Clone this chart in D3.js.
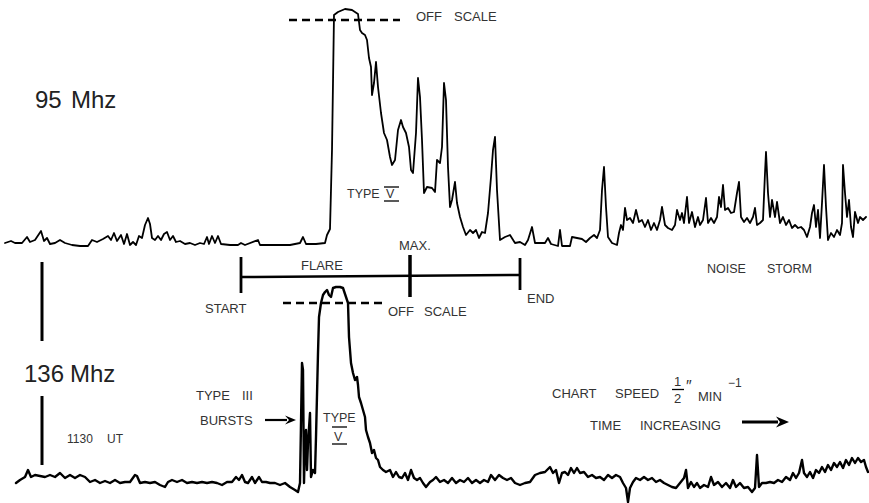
<!DOCTYPE html>
<html lang="en">
<head>
<meta charset="UTF-8">
<title>Radio record, 95 Mhz and 136 Mhz</title>
<script src="https://d3js.org/d3.v7.min.js"></script>
<style>
  body { margin: 0; background: #fff; }
  svg { display: block; }
  .trace { fill: none; stroke: #000; stroke-linejoin: round; stroke-linecap: round; }
  .note { font-family: "Liberation Sans", Arial, sans-serif; font-size: 13px; fill: #333; }
  .big { font-size: 24px; fill: #222; }
  .mark { stroke: #000; fill: none; }
</style>
</head>
<body>
<svg width="869" height="503"></svg>
<script>
  // [time, level] pairs; time runs left to right, level is pen deflection
  const trace95 = [[5,7],[11,9],[15,7],[22,7],[27,13],[30,8],[35,10],[41,19],[44,9],[47,12],[50,6],[55,7],[60,10],[65,7],[72,5],[80,4],[88,4],[92,10],[97,8],[103,11],[108,14],[111,10],[114,17],[117,9],[121,15],[124,6],[127,16],[130,5],[133,8],[136,5],[139,14],[142,12],[145,25],[148,32],[150,26],[152,12],[155,10],[158,14],[161,10],[164,16],[167,18],[170,10],[173,14],[176,8],[180,9],[185,6],[190,7],[195,5],[200,7],[204,6],[207,13],[209,6],[212,14],[215,7],[218,14],[221,6],[230,5],[238,5],[241,7],[245,5],[258,10],[260,5],[280,5],[290,5],[300,7],[303,13],[306,6],[316,6],[325,7],[327,15],[330,21],[332,100],[334,235],[338,238],[345,241],[352,240],[358,236],[360,220],[362,217],[365,215],[367,210],[369,192],[371,183],[372,155],[374,167],[376,188],[378,163],[381,137],[384,117],[387,110],[390,93],[392,85],[395,90],[398,120],[401,130],[403,123],[406,117],[409,103],[411,80],[413,77],[416,117],[418,172],[420,153],[422,110],[424,57],[427,63],[432,62],[435,58],[437,90],[440,87],[442,103],[444,167],[446,150],[448,83],[450,43],[452,50],[455,68],[457,47],[460,33],[463,23],[466,15],[470,20],[473,17],[476,20],[479,12],[482,18],[485,17],[488,37],[491,73],[493,100],[495,113],[497,60],[500,10],[505,13],[510,15],[515,7],[520,8],[525,5],[528,10],[532,23],[535,7],[545,7],[548,12],[551,6],[558,4],[560,20],[562,4],[570,4],[572,13],[577,12],[582,11],[586,8],[590,12],[594,15],[597,12],[600,20],[602,60],[604,83],[606,43],[608,13],[612,7],[617,5],[619,17],[621,25],[623,20],[625,42],[627,30],[630,32],[633,27],[636,40],[639,28],[642,30],[645,23],[648,30],[651,20],[654,27],[657,20],[660,30],[662,43],[665,25],[668,22],[672,20],[675,25],[677,40],[680,30],[682,37],[684,27],[687,53],[689,27],[692,38],[695,23],[698,33],[700,25],[703,30],[706,52],[708,27],[711,32],[714,27],[717,33],[719,53],[721,43],[723,65],[725,40],[728,42],[731,37],[734,38],[737,57],[739,68],[741,33],[744,28],[747,32],[750,27],[753,33],[755,42],[757,25],[760,27],[763,30],[765,77],[766,98],[768,57],[770,33],[772,50],[775,33],[777,48],[780,27],[783,33],[786,25],[789,30],[792,22],[795,25],[798,22],[801,23],[804,20],[807,13],[810,23],[812,37],[814,45],[816,23],[818,40],[820,12],[822,47],[824,85],[826,43],[828,10],[831,17],[834,13],[837,20],[840,15],[842,27],[843,85],[845,57],[847,33],[849,50],[851,23],[853,13],[855,38],[858,27],[860,33],[863,30],[866,33]];

  const trace136 = [[16,22],[20,25],[25,28],[28,35],[31,28],[35,30],[40,29],[45,28],[50,30],[55,28],[60,32],[65,27],[70,30],[75,27],[80,30],[85,28],[90,23],[95,25],[100,22],[105,24],[110,22],[115,25],[120,22],[125,23],[130,23],[135,30],[137,29],[140,22],[145,23],[150,22],[155,23],[160,20],[165,18],[168,23],[172,25],[177,23],[182,25],[187,22],[192,23],[197,22],[202,23],[207,22],[212,23],[217,22],[222,20],[227,23],[232,23],[236,28],[239,25],[242,30],[245,23],[248,22],[252,28],[255,22],[259,28],[262,23],[266,23],[270,22],[275,22],[280,20],[285,22],[290,18],[295,15],[298,13],[300,22],[302,142],[303,135],[304,22],[305,62],[306,75],[307,35],[308,62],[310,92],[311,28],[313,35],[315,32],[316,68],[318,152],[319,188],[321,202],[323,210],[325,213],[327,215],[329,210],[331,208],[333,217],[336,218],[340,218],[343,217],[346,208],[348,202],[349,168],[351,142],[353,132],[355,125],[357,128],[358,120],[359,108],[361,102],[363,95],[365,88],[366,75],[368,68],[370,62],[372,52],[374,55],[376,47],[378,45],[380,38],[383,35],[386,33],[390,35],[393,28],[396,33],[399,28],[402,27],[405,32],[408,25],[411,35],[414,27],[417,25],[420,27],[423,22],[426,18],[430,23],[433,25],[436,28],[440,23],[444,25],[448,22],[452,27],[456,22],[460,25],[464,23],[468,27],[472,22],[476,25],[480,22],[484,25],[488,23],[491,30],[495,25],[499,30],[503,27],[507,25],[511,27],[515,22],[520,20],[525,22],[530,23],[535,30],[540,32],[545,33],[550,38],[553,32],[556,35],[559,22],[562,32],[565,33],[568,30],[571,37],[574,32],[577,37],[580,32],[584,33],[588,28],[592,30],[596,27],[600,28],[604,25],[608,30],[612,27],[616,30],[620,28],[623,22],[626,17],[628,3],[630,17],[633,23],[636,27],[640,25],[644,28],[648,25],[652,27],[656,23],[660,25],[664,22],[668,20],[672,18],[676,17],[680,22],[684,27],[686,35],[688,17],[691,23],[694,18],[697,22],[700,17],[704,20],[708,18],[711,28],[714,20],[718,23],[722,18],[726,22],[730,17],[733,25],[736,18],[740,22],[744,17],[748,18],[752,13],[755,17],[757,50],[759,18],[762,22],[766,22],[770,23],[774,22],[778,25],[782,23],[786,28],[790,25],[793,32],[796,27],[799,32],[802,45],[804,32],[807,28],[810,33],[813,27],[816,35],[819,32],[822,38],[825,33],[828,40],[831,35],[834,42],[837,38],[840,43],[843,37],[846,45],[849,40],[852,47],[855,42],[858,47],[861,43],[864,45],[866,38],[868,33]];

  // flare timing marks (start, maximum, end)
  const flareTimes = [241, 410, 520];
  const flareLabels = ["START", "MAX.", "END"];

  // where each receiver went off scale
  const offScale95 = [289, 400];
  const offScaleLevel95 = 230;
  const offScale136 = [283, 383];
  const offScaleLevel136 = 202;

  const svg = d3.select("svg");

  const x = d3.scaleLinear().domain([0, 869]).range([0, 869]);
  const y95 = d3.scaleLinear().domain([0, 250]).range([250, 0]);
  const y136 = d3.scaleLinear().domain([0, 250]).range([505, 255]);

  const line95 = d3.line().x(d => x(d[0])).y(d => y95(d[1]));
  const line136 = d3.line().x(d => x(d[0])).y(d => y136(d[1]));

  svg.append("path").datum(trace95).attr("class", "trace")
    .attr("stroke-width", 1.8).attr("d", line95);
  svg.append("path").datum(trace136).attr("class", "trace")
    .attr("stroke-width", 2.4).attr("d", line136);

  // off scale dashed levels
  svg.append("line").attr("class", "mark")
    .attr("x1", x(offScale95[0])).attr("x2", x(offScale95[1]))
    .attr("y1", y95(offScaleLevel95)).attr("y2", y95(offScaleLevel95))
    .attr("stroke-width", 2.5).attr("stroke-dasharray", "8,5");
  svg.append("line").attr("class", "mark")
    .attr("x1", x(offScale136[0])).attr("x2", x(offScale136[1]))
    .attr("y1", y136(offScaleLevel136)).attr("y2", y136(offScaleLevel136))
    .attr("stroke-width", 2.5).attr("stroke-dasharray", "8,5");

  // flare bar
  const barY = 276;
  svg.append("line").attr("class", "mark")
    .attr("x1", x(flareTimes[0])).attr("x2", x(flareTimes[2]))
    .attr("y1", barY + 1).attr("y2", barY - 1).attr("stroke-width", 2.5);
  const tickSpan = [[257, 293], [255, 297], [258, 290]];
  flareTimes.forEach((t, i) => {
    svg.append("line").attr("class", "mark")
      .attr("x1", x(t)).attr("x2", x(t))
      .attr("y1", tickSpan[i][0]).attr("y2", tickSpan[i][1])
      .attr("stroke-width", i === 1 ? 3.5 : 2.8);
  });

  // left time marker bars
  svg.append("line").attr("class", "mark").attr("x1", 42).attr("x2", 42)
    .attr("y1", 262).attr("y2", 341).attr("stroke-width", 3);
  svg.append("line").attr("class", "mark").attr("x1", 42).attr("x2", 42)
    .attr("y1", 396).attr("y2", 465).attr("stroke-width", 3);

  function label(txt, px, py, cls, size) {
    const t = svg.append("text").attr("class", "note " + (cls || ""))
      .attr("x", px).attr("y", py).text(txt);
    if (size) t.style("font-size", size + "px");
    return t;
  }

  label("95", 35, 108, "big");
  label("Mhz", 71, 108, "big");
  label("136", 24, 382, "big");
  label("Mhz", 70, 382, "big");

  label("OFF", 416, 21);
  label("SCALE", 454, 21);
  label("OFF", 388, 316);
  label("SCALE", 424, 316);

  label("TYPE", 347, 198, "", 12.5);
  label("V", 386, 198, "", 12.5);
  svg.append("line").attr("class", "mark").attr("stroke", "#333")
    .attr("x1", 384).attr("x2", 399).attr("y1", 187).attr("y2", 187).attr("stroke-width", 1.3);
  svg.append("line").attr("class", "mark").attr("stroke", "#333")
    .attr("x1", 384).attr("x2", 399).attr("y1", 201).attr("y2", 201).attr("stroke-width", 1.3);

  label("TYPE", 323, 422, "", 12.5);
  label("V", 334, 441, "", 12.5);
  svg.append("line").attr("class", "mark").attr("stroke", "#333")
    .attr("x1", 332).attr("x2", 347).attr("y1", 427).attr("y2", 427).attr("stroke-width", 1.3);
  svg.append("line").attr("class", "mark").attr("stroke", "#333")
    .attr("x1", 332).attr("x2", 347).attr("y1", 444).attr("y2", 444).attr("stroke-width", 1.3);

  label(flareLabels[0], 205, 313);
  label(flareLabels[1], 399, 250);
  label(flareLabels[2], 527, 303);
  label("FLARE", 301, 270);

  label("NOISE", 707, 273, "", 12.5);
  label("STORM", 767, 273, "", 12.5);

  label("1130", 67, 443, "", 12);
  label("UT", 107, 443, "", 12);

  label("TYPE", 196, 400);
  label("III", 242, 400);
  label("BURSTS", 200, 425);

  label("CHART", 552, 398);
  label("SPEED", 615, 398);
  label("1", 674, 386, "", 13);
  svg.append("line").attr("class", "mark").attr("stroke", "#333")
    .attr("x1", 672).attr("x2", 684).attr("y1", 389.5).attr("y2", 389.5).attr("stroke-width", 1.3);
  label("2", 674, 403, "", 13);
  label("\u2033", 686, 392, "", 16);
  label("MIN", 698, 401);
  label("\u22121", 728, 387, "", 12);

  label("TIME", 590, 430);
  label("INCREASING", 640, 430);

  // arrows
  function arrow(x1, x2, yy, w, head) {
    svg.append("line").attr("class", "mark").attr("x1", x1).attr("x2", x2 - head)
      .attr("y1", yy).attr("y2", yy).attr("stroke-width", w);
    svg.append("path").attr("fill", "#000")
      .attr("d", `M${x2},${yy} L${x2 - head - 2},${yy - head / 2} L${x2 - head + 2},${yy} L${x2 - head - 2},${yy + head / 2} Z`);
  }
  arrow(265, 296, 420, 2.2, 9);
  arrow(742, 789, 422, 3, 11);
</script>
</body>
</html>
